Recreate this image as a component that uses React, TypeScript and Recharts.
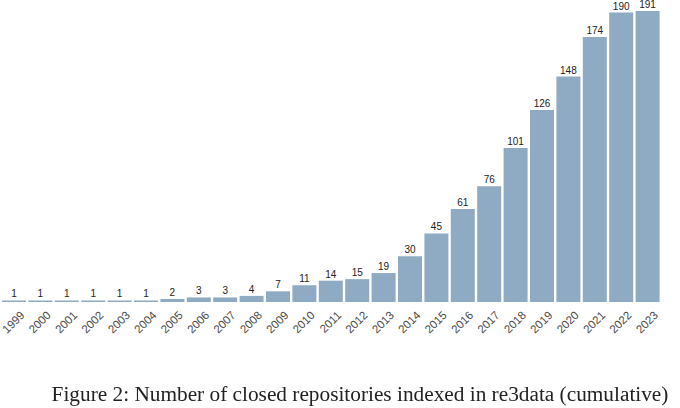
import React from 'react';
import { BarChart, Bar, XAxis, YAxis, LabelList } from 'recharts';

const years = [
  '1999', '2000', '2001', '2002', '2003', '2004', '2005', '2006', '2007', '2008',
  '2009', '2010', '2011', '2012', '2013', '2014', '2015', '2016', '2017', '2018',
  '2019', '2020', '2021', '2022', '2023'];

const closedRepos = [
  1, 1, 1, 1, 1, 1, 2, 3, 3, 4,
  7, 11, 14, 15, 19, 30, 45, 61, 76, 101,
  126, 148, 174, 190, 191];

const data = years.map((year, i) => ({ year, count: closedRepos[i] }));

const YearTick = (props: any) => {
  const { x, y, payload } = props;
  return (
    <text
      x={x + 11}
      y={y + 6}
      transform={`rotate(-45, ${x + 11}, ${y + 6})`}
      textAnchor="end"
      fontSize={11.5}
      fill="#4a4a4a"
      fontFamily="Liberation Sans, Arial, sans-serif">
      {payload.value}
    </text>);

};

export default function App() {
  return (
    <div style={{ position: 'fixed', left: 0, top: 0, width: 680, height: 408, background: '#fff' }}>
      <BarChart
        width={680}
        height={340}
        data={data}
        barCategoryGap={1}
        margin={{ top: 11, right: 19, left: 1, bottom: 0 }}>

        <XAxis
          dataKey="year"
          interval={0}
          tickLine={false}
          axisLine={false}
          height={38}
          tick={<YearTick />} />

        <YAxis hide domain={[0, 191]} />
        <Bar dataKey="count" fill="#8eabc3" isAnimationActive={false}>
          <LabelList
            dataKey="count"
            position="top"
            offset={3}
            fontSize={10}
            fill="#222"
            fontFamily="Liberation Sans, Arial, sans-serif" />
        </Bar>
      </BarChart>
      <div
        style={{
          position: 'absolute',
          left: 0,
          width: 720,
          top: 382,
          textAlign: 'center',
          fontFamily: 'Liberation Serif, serif',
          fontSize: 21.3,
          color: '#222'
        }}>
        Figure 2: Number of closed repositories indexed in re3data (cumulative)
      </div>
    </div>);

}
